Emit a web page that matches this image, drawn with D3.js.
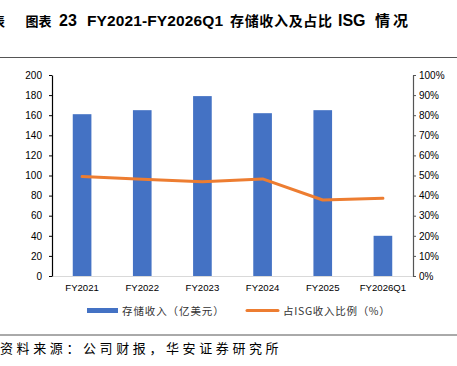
<!DOCTYPE html>
<html><head><meta charset="utf-8">
<script src="https://cdn.jsdelivr.net/npm/d3@7"></script>
<style>
body{margin:0;background:#fff;}
svg{display:block;font-family:"Liberation Sans",Arial,sans-serif;}
</style></head><body>
<svg id="c" width="457" height="366"></svg>
<script>
const categories = ["FY2021","FY2022","FY2023","FY2024","FY2025","FY2026Q1"];
const storageRevenue = [161, 165, 179, 162, 165, 40];
const isgShare = [49.5, 48.1, 46.9, 48.3, 37.8, 38.7];
const leftTicks = [0,20,40,60,80,100,120,140,160,180,200];
const rightTicks = [0,10,20,30,40,50,60,70,80,90,100];

const svg = d3.select("#c");
const L = 52, R = 413, T = 75, B = 276;
const x = d3.scaleBand().domain(categories).range([L, R]).paddingInner(0.69).paddingOuter(0.345);
const yL = d3.scaleLinear().domain([0,200]).range([B,T]);
const yR = d3.scaleLinear().domain([0,100]).range([B,T]);
const cjk = '"Noto Sans CJK SC","Liberation Sans",sans-serif';
const lat = '"Liberation Sans",Arial,sans-serif';

// title (pieces placed at measured positions)
const titleParts = [
  {t:"表", x:-8, w:null, f:cjk, s:13},
  {t:"图表", x:25.5, w:null, f:cjk, s:13},
  {t:"23", x:59, w:null, f:lat, s:16},
  {t:"FY2021-FY2026Q1", x:87, w:136, f:lat, s:15.5},
  {t:"存储收入及占比", x:230, w:102, f:cjk, s:14},
  {t:"ISG", x:338, w:null, f:lat, s:16},
  {t:"情况", x:375, w:33, f:cjk, s:15}
];
svg.selectAll("text.title").data(titleParts).enter().append("text").attr("class","title")
  .attr("x",d=>d.x).attr("y",26).attr("font-family",d=>d.f).attr("font-size",d=>d.s)
  .each(function(d){ if(d.w) d3.select(this).attr("textLength",d.w).attr("lengthAdjust","spacing"); })
  .attr("font-weight","bold").attr("fill","#000").text(d=>d.t);
svg.append("line").attr("x1",0).attr("x2",457).attr("y1",57.5).attr("y2",57.5).attr("stroke","#555").attr("stroke-width",1);

// bottom axis line
svg.append("line").attr("x1",L).attr("x2",R).attr("y1",B+0.5).attr("y2",B+0.5).attr("stroke","#d9d9d9").attr("stroke-width",1);

// bars
svg.selectAll("rect.bar").data(categories).enter().append("rect").attr("class","bar")
  .attr("x",d=>x(d)).attr("width",x.bandwidth())
  .attr("y",(d,i)=>yL(storageRevenue[i])).attr("height",(d,i)=>B-yL(storageRevenue[i]))
  .attr("fill","#4472C4");

// line
const line = d3.line().x((d,i)=>x(categories[i])+x.bandwidth()/2).y(d=>yR(d));
svg.append("path").datum(isgShare).attr("d",line).attr("fill","none").attr("stroke","#ED7D31").attr("stroke-width",3).attr("stroke-linecap","round").attr("stroke-linejoin","round");

// left axis
const ax = svg.append("g").attr("transform",`translate(${L},0)`)
  .call(d3.axisLeft(yL).tickValues(leftTicks).tickSize(3).tickSizeOuter(0));
ax.select(".domain").attr("stroke","#000").attr("stroke-width",1.2);
ax.selectAll(".tick line").attr("stroke","#000");
ax.selectAll("text").attr("font-size",10).attr("fill","#000").attr("font-family",lat).attr("x",-10);

// right axis
const ar = svg.append("g").attr("transform",`translate(${R},0)`)
  .call(d3.axisRight(yR).tickValues(rightTicks).tickFormat(d=>d+"%").tickSize(3).tickSizeOuter(0));
ar.select(".domain").attr("stroke","#555").attr("stroke-width",1.2);
ar.selectAll(".tick line").attr("stroke","#555");
ar.selectAll("text").attr("font-size",10).attr("fill","#000").attr("font-family",lat).attr("x",6);

// x labels
svg.selectAll("text.xl").data(categories).enter().append("text").attr("class","xl")
  .attr("x",d=>x(d)+x.bandwidth()/2).attr("y",291).attr("text-anchor","middle")
  .attr("font-size",9.6).attr("fill","#000").text(d=>d);

// legend
svg.append("rect").attr("x",87).attr("y",308).attr("width",31).attr("height",5).attr("fill","#4472C4");
svg.append("text").attr("x",122).attr("y",315).attr("font-family",cjk).attr("font-size",10.5).attr("letter-spacing",0.9).attr("fill","#333").text("存储收入（亿美元）");
svg.append("line").attr("x1",247).attr("x2",278).attr("y1",310.5).attr("y2",310.5).attr("stroke","#ED7D31").attr("stroke-width",3).attr("stroke-linecap","round");
svg.append("text").attr("x",283).attr("y",315).attr("font-family",cjk).attr("font-size",10.5).attr("letter-spacing",0.7).attr("fill","#333").text("占ISG收入比例（%）");

// source
svg.append("line").attr("x1",0).attr("x2",457).attr("y1",335).attr("y2",335).attr("stroke","#555").attr("stroke-width",1);
svg.append("text").attr("x",0).attr("y",353).attr("font-family",cjk).attr("font-size",13).attr("letter-spacing",3.6).attr("fill","#000").text("资料来源：公司财报，华安证券研究所");
</script>
</body></html>
